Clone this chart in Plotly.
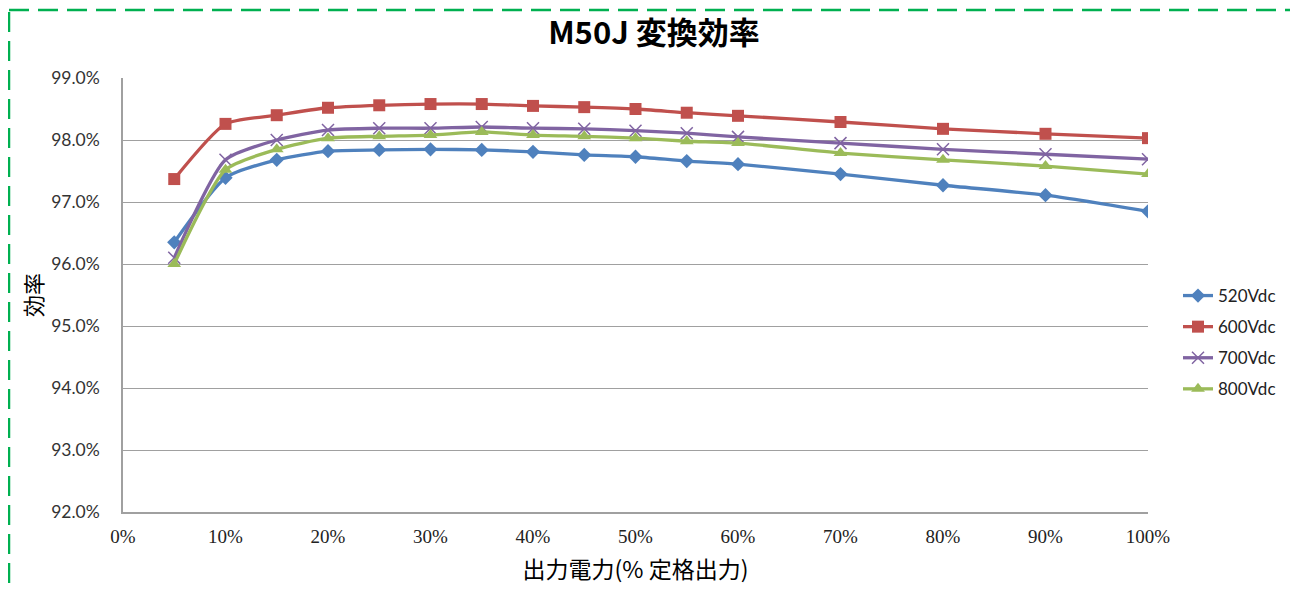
import plotly.graph_objects as go

load_pct = [5, 10, 15, 20, 25, 30, 35, 40, 45, 50, 55, 60, 70, 80, 90, 100]
eff_520 = [96.35, 97.39, 97.68, 97.82, 97.84, 97.85, 97.84, 97.81, 97.76, 97.73, 97.66, 97.61, 97.45, 97.27, 97.11, 96.85]
eff_600 = [97.37, 98.26, 98.40, 98.52, 98.56, 98.58, 98.58, 98.55, 98.53, 98.50, 98.44, 98.39, 98.29, 98.18, 98.10, 98.03]
eff_700 = [96.10, 97.68, 98.00, 98.16, 98.19, 98.19, 98.21, 98.19, 98.18, 98.15, 98.11, 98.05, 97.95, 97.85, 97.77, 97.69]
eff_800 = [96.00, 97.52, 97.85, 98.03, 98.06, 98.08, 98.13, 98.08, 98.06, 98.03, 97.98, 97.95, 97.79, 97.68, 97.58, 97.45]

series_names = ["520Vdc", "600Vdc", "700Vdc", "800Vdc"]
series_colors = ["#4F81BD", "#C0504D", "#8064A2", "#9BBB59"]
series_symbols = ["diamond", "square", "x-thin", "triangle-up"]
series_sizes = [11, 12, 12, 12]

x_tickvals = [0, 10, 20, 30, 40, 50, 60, 70, 80, 90, 100]
x_ticktext = ["0%", "10%", "20%", "30%", "40%", "50%", "60%", "70%", "80%", "90%", "100%"]
y_tickvals = [92, 93, 94, 95, 96, 97, 98, 99]
y_ticktext = ["92.0%", "93.0%", "94.0%", "95.0%", "96.0%", "97.0%", "98.0%", "99.0%"]

fig = go.Figure()
for name, vals, col, sym, sz in zip(series_names, [eff_520, eff_600, eff_700, eff_800],
                                    series_colors, series_symbols, series_sizes):
    marker = dict(symbol=sym, size=sz, color=col)
    if sym == "x-thin":
        marker["line"] = dict(color=col, width=1.5)
    fig.add_trace(go.Scatter(
        x=load_pct, y=vals, name=name, legendgroup=name, mode="lines+markers",
        line=dict(color=col, width=3.3, shape="spline", smoothing=0.6),
        marker=marker,
    ))

# page offset (body margin) of the figure inside the browser window
OFF = 8
W, H = 1298 - OFF, 592 - OFF
L = 123 - OFF
T = 78 - OFF
R = W - (1148 - OFF)
B = H - (512 - OFF)
pw, ph = W - L - R, H - T - B

def px(x):
    return (x - OFF - L) / pw

def py(y):
    return (H - B - (y - OFF)) / ph

fig.update_layout(
    width=W, height=H,
    margin=dict(l=L, r=R, t=T, b=B),
    paper_bgcolor="white", plot_bgcolor="white",
    title=dict(text="<b>M50J 変換効率</b>", x=(654 - OFF) / W, xanchor="center",
               y=1 - (33 - OFF) / H, yanchor="middle",
               font=dict(family="Noto Sans CJK JP", size=31, color="black")),
    xaxis=dict(range=[0, 100], tickvals=x_tickvals, ticktext=x_ticktext,
               showgrid=False, showline=True, linecolor="#A0A0A0", linewidth=1.5,
               ticks="", zeroline=False, ticklabelstandoff=6,
               tickfont=dict(family="Liberation Serif", size=19, color="#222"),
               title=dict(text="出力電力(% 定格出力)", standoff=16,
                          font=dict(family="Noto Sans CJK JP", size=23, color="black"))),
    yaxis=dict(range=[92, 99], tickvals=y_tickvals, ticktext=y_ticktext,
               showgrid=True, gridcolor="#A0A0A0", gridwidth=1.4,
               showline=True, linecolor="#A0A0A0", linewidth=1.5,
               ticks="", zeroline=False, ticklabelstandoff=18,
               tickfont=dict(family="Lato", size=17.5, color="#333"),
               title=dict(text="効率", standoff=2,
                          font=dict(family="Noto Sans CJK JP", size=22, color="black"))),
    legend=dict(x=px(1178), y=py(278), xanchor="left", yanchor="top",
                font=dict(family="Lato", size=17, color="#222"),
                tracegroupgap=6, itemwidth=30, bgcolor="rgba(0,0,0,0)"),
    showlegend=True,
)

fig.add_shape(type="rect", xref="paper", yref="paper",
              x0=px(9), x1=px(1295), y0=py(10), y1=py(620),
              line=dict(color="#00B050", width=2.5, dash="20px,9px"),
              fillcolor="rgba(0,0,0,0)", layer="above")

fig.write_html("out.html")
